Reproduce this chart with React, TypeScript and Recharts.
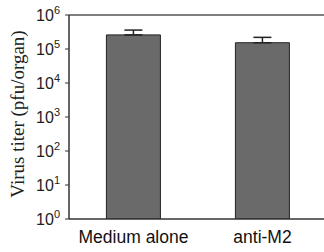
import { Bar, BarChart, ErrorBar, Label, ReferenceLine, XAxis, YAxis } from "recharts";

// 그룹 / 값 (pfu/organ)
const groups = ["Medium alone", "anti-M2"];
const titers = [260000, 153000];
const errUp = [100000, 67000];
const yTicks = [1, 10, 100, 1000, 10000, 100000, 1000000];

const data = groups.map((g, i) => ({
  name: g,
  titer: titers[i],
  err: [0, errUp[i]],
}));

// 10^n 형태의 눈금 라벨
const PowerTick = (props: any) => {
  const { x, y, payload } = props;
  const exp = Math.round(Math.log10(payload.value));
  return (
    <text
      x={x}
      y={y}
      textAnchor="end"
      fill="#222"
      fontFamily="Liberation Sans, Arial, sans-serif"
      fontSize={16}
    >
      <tspan dy="0.35em">10</tspan>
      <tspan dy={-7} fontSize={11}>
        {exp}
      </tspan>
    </text>
  );
};

export default function App() {
  return (
    <div
      style={{
        position: "fixed",
        left: 0,
        top: 0,
        width: 324,
        height: 252,
        overflow: "hidden",
        background: "#fff",
      }}
    >
      <BarChart
        width={330}
        height={252}
        data={data}
        margin={{ top: 15, right: 3, left: 0, bottom: 0 }}
        barCategoryGap="29%"
      >
        <ReferenceLine y={1000000} stroke="#555" strokeWidth={1.5} />
        <XAxis
          dataKey="name"
          height={33}
          axisLine={{ stroke: "#333", strokeWidth: 1.5 }}
          tickLine={false}
          tick={{
            fontSize: 17.5,
            fill: "#111",
            fontFamily: "Liberation Sans, Arial, sans-serif",
          }}
          tickMargin={6}
        />
        <YAxis
          scale="log"
          domain={[1, 1000000]}
          ticks={yTicks}
          allowDataOverflow
          width={69}
          axisLine={{ stroke: "#333", strokeWidth: 1.5 }}
          tickLine={{ stroke: "#333" }}
          tickSize={4}
          tickMargin={5}
          tick={<PowerTick />}
          interval={0}
        >
          <Label
            content={() => (
              <text
                x={17}
                y={114}
                transform="rotate(-90 17 114)"
                textAnchor="middle"
                dominantBaseline="central"
                fontFamily="Liberation Serif, Times New Roman, serif"
                fontSize={19}
                fill="#222"
              >
                Virus titer (pfu/organ)
              </text>
            )}
          />
        </YAxis>
        <Bar
          dataKey="titer"
          fill="#6a6a6a"
          stroke="#222"
          strokeWidth={1}
          isAnimationActive={false}
        >
          <ErrorBar
            dataKey="err"
            direction="y"
            width={9}
            stroke="#222"
            strokeWidth={1.5}
            isAnimationActive={false}
          />
        </Bar>
      </BarChart>
    </div>
  );
}
